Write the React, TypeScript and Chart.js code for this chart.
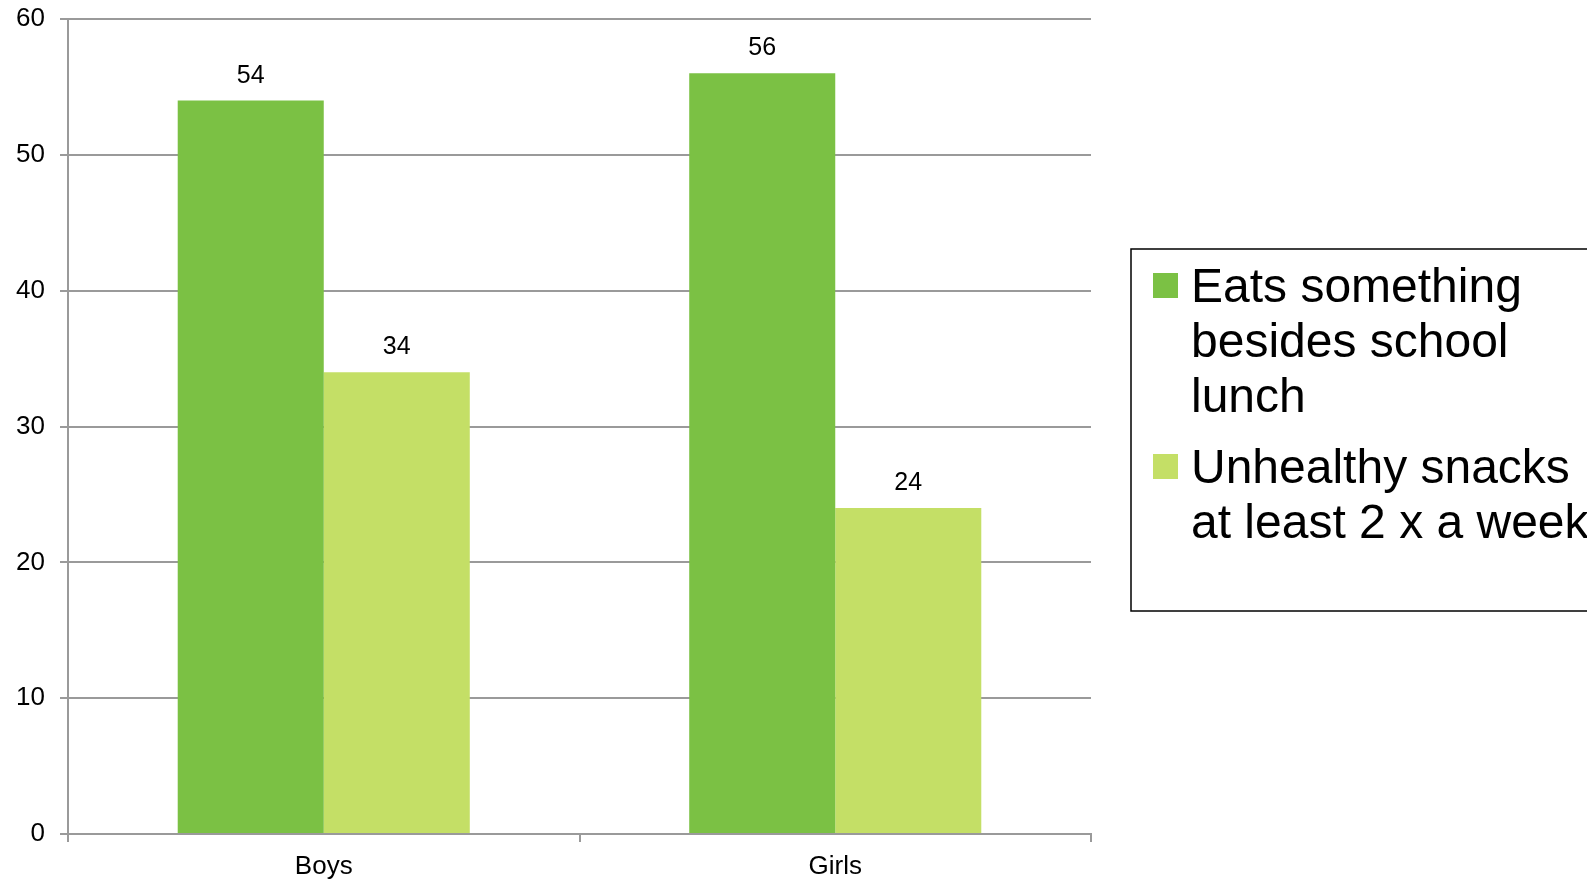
import React, { useEffect, useRef } from "react";
import { Chart, registerables } from "chart.js";

Chart.register(...registerables);

const categories = ["Boys", "Girls"];
const seriesNames = [
  ["Eats something", "besides school", "lunch"],
  ["Unhealthy snacks", "at least 2 x a week"],
];
const eatsSomething = [54, 56];
const unhealthySnacks = [34, 24];
const yTicks = [0, 10, 20, 30, 40, 50, 60];

const FONT = "'Liberation Sans', Arial, sans-serif";
const GREEN = "#7BC144";
const LIGHT = "#C4DF66";
const GRID = "#9A9A9A";

const valueLabels = {
  id: "valueLabels",
  afterDatasetsDraw(chart: any) {
    const ctx = chart.ctx;
    ctx.save();
    ctx.font = `25px ${FONT}`;
    ctx.fillStyle = "#000";
    ctx.textAlign = "center";
    ctx.textBaseline = "alphabetic";
    chart.data.datasets.forEach((ds: any, di: number) => {
      const meta = chart.getDatasetMeta(di);
      meta.data.forEach((bar: any, i: number) => {
        ctx.fillText(String(ds.data[i]), bar.x, bar.y - 18);
      });
    });
    ctx.restore();
  },
};

const boxLegend = {
  id: "boxLegend",
  afterDraw(chart: any) {
    const ctx = chart.ctx;
    ctx.save();
    ctx.strokeStyle = "#000";
    ctx.lineWidth = 1.5;
    ctx.strokeRect(1131, 249, 600, 362);
    ctx.font = `48px ${FONT}`;
    ctx.textAlign = "left";
    ctx.textBaseline = "alphabetic";
    const starts = [302, 483];
    chart.data.datasets.forEach((ds: any, di: number) => {
      const lines = seriesNames[di];
      const base = starts[di];
      ctx.fillStyle = ds.backgroundColor;
      ctx.fillRect(1153, base - 29, 25, 25);
      ctx.fillStyle = "#000";
      lines.forEach((ln: string, li: number) => {
        ctx.fillText(ln, 1191, base + li * 55);
      });
    });
    ctx.restore();
  },
};

export default function App() {
  const ref = useRef<HTMLCanvasElement | null>(null);
  useEffect(() => {
    if (!ref.current) return;
    const chart = new Chart(ref.current, {
      type: "bar",
      data: {
        labels: categories,
        datasets: [
          {
            label: seriesNames[0].join(" "),
            data: eatsSomething,
            backgroundColor: GREEN,
            borderWidth: 0,
          },
          {
            label: seriesNames[1].join(" "),
            data: unhealthySnacks,
            backgroundColor: LIGHT,
            borderWidth: 0,
          },
        ],
      },
      options: {
        animation: false,
        responsive: false,
        maintainAspectRatio: false,
        layout: { padding: { top: 19, right: 496, left: 0, bottom: 0 } },
        datasets: {
          bar: { categoryPercentage: 0.571, barPercentage: 1 },
        },
        plugins: {
          legend: { display: false },
          tooltip: { enabled: false },
        },
        scales: {
          x: {
            grid: {
              offset: true,
              drawOnChartArea: false,
              drawTicks: true,
              tickLength: 8,
              color: GRID,
              lineWidth: 2,
            },
            border: { display: true, color: GRID, width: 2 },
            ticks: {
              color: "#000",
              font: { family: FONT, size: 26 },
              padding: 9,
            },
            afterFit(scale: any) {
              scale.height = 45;
              scale.paddingLeft = 0;
              scale.paddingRight = 0;
            },
          },
          y: {
            min: 0,
            max: 60,
            afterBuildTicks(scale: any) {
              scale.ticks = yTicks.map((v) => ({ value: v }));
            },
            grid: {
              color: GRID,
              lineWidth: 2,
              drawTicks: true,
              tickLength: 8,
            },
            border: { display: true, color: GRID, width: 2 },
            ticks: {
              color: "#000",
              font: { family: FONT, size: 26 },
              padding: 15,
            },
            afterFit(scale: any) {
              scale.width = 68;
              scale.paddingTop = 0;
              scale.paddingBottom = 0;
            },
          },
        },
      },
      plugins: [valueLabels, boxLegend],
    });
    return () => chart.destroy();
  }, []);
  return (
    <div
      style={{
        position: "fixed",
        left: 0,
        top: 0,
        width: 1587,
        height: 879,
        background: "#fff",
      }}
    >
      <canvas ref={ref} width={1587} height={879} style={{ display: "block" }} />
    </div>
  );
}
